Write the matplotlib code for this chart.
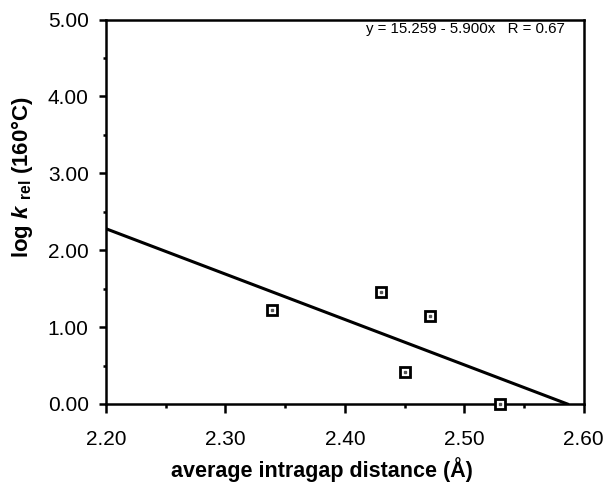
import matplotlib
matplotlib.use("Agg")
import matplotlib.pyplot as plt
import numpy as np
from matplotlib.ticker import MultipleLocator, FormatStrFormatter

plt.rcParams['font.family'] = ['Liberation Sans', 'DejaVu Sans']
plt.rcParams['mathtext.fontset'] = 'custom'
plt.rcParams['mathtext.rm'] = 'Liberation Sans:bold'
plt.rcParams['mathtext.it'] = 'Liberation Sans:bold:italic'
plt.rcParams['mathtext.bf'] = 'Liberation Sans:bold'

# data
distance = [2.339, 2.430, 2.450, 2.471, 2.530]
log_krel = [1.22, 1.46, 0.41, 1.15, 0.00]
intercept = 15.259
slope = -5.900
fit_label = "y = 15.259 - 5.900x   R = 0.67"

fig = plt.figure(figsize=(6.04, 4.84), dpi=100)
ax = fig.add_axes([0.1755, 0.1653, 0.791, 0.7944])

xfit = np.array([2.20, -intercept / slope])
ax.plot(xfit, intercept + slope * xfit, color='black', lw=2.2, zorder=2, clip_on=True)
ax.plot(distance, log_krel, linestyle='none', marker='s', markersize=6.8,
        markerfacecolor='white', markeredgecolor='black', markeredgewidth=2.0,
        zorder=3, clip_on=False)
ax.plot(distance, log_krel, linestyle='none', marker='s', markersize=1.5,
        markerfacecolor='#555555', markeredgecolor='#555555', zorder=4, clip_on=False)

ax.set_xlim(2.20, 2.60)
ax.set_ylim(0, 5)
ax.xaxis.set_major_locator(MultipleLocator(0.1))
ax.xaxis.set_minor_locator(MultipleLocator(0.05))
ax.yaxis.set_major_locator(MultipleLocator(1.0))
ax.yaxis.set_minor_locator(MultipleLocator(0.5))
ax.xaxis.set_major_formatter(FormatStrFormatter('%.2f'))
ax.yaxis.set_major_formatter(FormatStrFormatter('%.2f'))
ax.tick_params(which='both', direction='out', width=1.8, labelsize=15,
               top=False, right=False)
ax.tick_params(axis='x', which='major', length=6.5, pad=12)
ax.tick_params(axis='x', which='minor', length=3)
ax.tick_params(axis='y', which='major', length=5, pad=7.5)
ax.tick_params(axis='y', which='minor', length=2.5)
for s in ax.spines.values():
    s.set_linewidth(1.8)

ax.set_xlabel('average intragap distance (Å)', fontsize=15.5, fontweight='bold')
ax.set_ylabel(r'log $\it{k}$ $_{\rm rel}$ (160°C)', fontsize=16, fontweight='bold')
ax.xaxis.set_label_coords(0.452, -0.19)
ax.xaxis.label.set_va('baseline')
ax.yaxis.set_label_coords(-0.176, 0.590)
ax.yaxis.label.set_va('center')

ax.text(0.96, 0.975, fit_label, transform=ax.transAxes, ha='right', va='center', fontsize=10.8)

fig.savefig('out.png', dpi=100)
